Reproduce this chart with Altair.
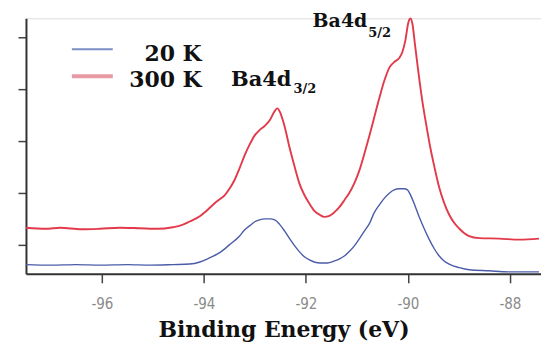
import altair as alt
import pandas as pd

# ---- data ----
series_names = ["20 K", "300 K"]
series_colors = ["#4b5ca9", "#e23a4b"]

energy_300k = [-97.49, -97.10, -96.82, -96.40, -96.04, -95.65, -95.26, -94.90, -94.61,
               -94.47, -94.28, -94.08, -93.98, -93.89, -93.79, -93.69, -93.59, -93.50,
               -93.40, -93.30, -93.20, -93.10, -93.01, -92.91, -92.81, -92.71, -92.61,
               -92.56, -92.50, -92.42, -92.32, -92.22, -92.13, -92.03, -91.93, -91.83,
               -91.73, -91.64, -91.54, -91.44, -91.34, -91.24, -91.15, -91.05, -90.95,
               -90.85, -90.75, -90.66, -90.56, -90.46, -90.36, -90.27, -90.17, -90.11,
               -90.05, -89.99, -89.95, -89.91, -89.86, -89.80, -89.72, -89.64, -89.56,
               -89.48, -89.39, -89.29, -89.19, -89.09, -88.99, -88.90, -88.80, -88.60,
               -88.21, -87.82, -87.43]
intensity_300k = [1.33, 1.31, 1.33, 1.30, 1.31, 1.33, 1.32, 1.31, 1.34,
                  1.37, 1.45, 1.55, 1.63, 1.71, 1.80, 1.88, 1.96, 2.08,
                  2.25, 2.48, 2.73, 2.94, 3.10, 3.21, 3.29, 3.40, 3.58,
                  3.63, 3.54, 3.29, 2.87, 2.50, 2.19, 1.96, 1.79, 1.65,
                  1.58, 1.54, 1.56, 1.63, 1.73, 1.87, 2.00, 2.19, 2.44,
                  2.77, 3.12, 3.46, 3.83, 4.17, 4.42, 4.52, 4.60, 4.71,
                  4.94, 5.29, 5.36, 5.25, 4.85, 4.37, 3.79, 3.31, 2.87,
                  2.50, 2.12, 1.81, 1.58, 1.42, 1.31, 1.23, 1.17, 1.13,
                  1.12, 1.10, 1.12]

energy_20k = [-97.49, -97.00, -96.50, -96.04, -95.50, -95.06, -94.60, -94.28, -94.08,
              -93.89, -93.69, -93.50, -93.30, -93.20, -93.10, -93.01, -92.91, -92.81,
              -92.71, -92.61, -92.52, -92.42, -92.32, -92.22, -92.13, -92.03, -91.93,
              -91.73, -91.58, -91.44, -91.34, -91.24, -91.15, -91.05, -90.95, -90.85,
              -90.75, -90.66, -90.56, -90.46, -90.36, -90.27, -90.17, -90.07, -90.01,
              -89.93, -89.86, -89.78, -89.68, -89.58, -89.48, -89.39, -89.29, -89.19,
              -88.99, -88.80, -88.41, -88.02, -87.43]
intensity_20k = [0.62, 0.61, 0.62, 0.61, 0.62, 0.61, 0.62, 0.63, 0.67,
                 0.75, 0.85, 1.00, 1.17, 1.29, 1.37, 1.44, 1.48, 1.50,
                 1.50, 1.48, 1.40, 1.27, 1.12, 0.98, 0.87, 0.77, 0.71,
                 0.65, 0.65, 0.69, 0.73, 0.79, 0.87, 0.98, 1.12, 1.27,
                 1.42, 1.62, 1.77, 1.90, 2.00, 2.06, 2.08, 2.08, 2.06,
                 1.92, 1.75, 1.54, 1.31, 1.10, 0.92, 0.79, 0.69, 0.63,
                 0.56, 0.52, 0.50, 0.48, 0.48]

x_ticks = [-96, -94, -92, -90, -88]
y_ticks = [1, 2, 3, 4, 5]
x_domain = [-97.49, -87.39]
y_domain = [0.442, 5.365]

df = pd.concat([
    pd.DataFrame({"energy": energy_20k, "intensity": intensity_20k, "series": "20 K"}),
    pd.DataFrame({"energy": energy_300k, "intensity": intensity_300k, "series": "300 K"}),
])

SERIF = "DejaVu Serif"

lines = alt.Chart(df).mark_line(interpolate="monotone", clip=False).encode(
    x=alt.X("energy:Q",
            scale=alt.Scale(domain=x_domain, nice=False, zero=False),
            axis=alt.Axis(values=x_ticks, title="Binding Energy (eV)",
                          labelExpr="'-' + abs(datum.value)", grid=False,
                          domainColor="#333333", domainWidth=2,
                          tickColor="#444444", tickSize=9, tickWidth=1.5,
                          labelColor="#8a8a8a", labelFont="DejaVu Sans Condensed, Liberation Sans Narrow, DejaVu Sans",
                          labelFontSize=15, labelPadding=14,
                          titleFont=SERIF, titleFontWeight="bold", titleFontSize=22,
                          titleColor="#111111", titlePadding=8)),
    y=alt.Y("intensity:Q",
            scale=alt.Scale(domain=y_domain, nice=False, zero=False),
            axis=alt.Axis(values=y_ticks, labels=False, title=None, grid=False,
                          domainColor="#333333", domainWidth=2,
                          tickColor="#444444", tickSize=8, tickWidth=1.5)),
    color=alt.Color("series:N", scale=alt.Scale(domain=series_names, range=series_colors), legend=None),
    strokeWidth=alt.StrokeWidth("series:N", scale=alt.Scale(domain=series_names, range=[1.4, 1.9]), legend=None),
)

one = pd.DataFrame({"k": [0]})

leg_blue = alt.Chart(one).mark_rule(color="#7d90c6", strokeWidth=2).encode(
    x=alt.value(46), x2=alt.value(87), y=alt.value(31))
leg_red = alt.Chart(one).mark_rule(color="#e79aa3", strokeWidth=4).encode(
    x=alt.value(46), x2=alt.value(87), y=alt.value(58))

def label(txt, x, y, size=22, align="right"):
    return alt.Chart(one).mark_text(font=SERIF, fontWeight="bold", fontSize=size,
                                    align=align, baseline="middle", color="#111111").encode(
        x=alt.value(x), y=alt.value(y), text=alt.value(txt))

texts = [
    label("20 K", 176, 36),
    label("300 K", 176, 62),
    label("Ba4d", 266, 62, size=21),
    label("3/2", 268, 71, size=13, align="left"),
    label("Ba4d", 342, 3, size=19),
    label("5/2", 343, 15, size=13, align="left"),
]

chart = alt.layer(lines, leg_blue, leg_red, *texts).properties(
    width=516, height=256,
    autosize=alt.AutoSizeParams(type="none"),
    padding={"left": 18, "top": 10, "right": 0, "bottom": 72},
).configure_view(stroke=None).configure(background="white")

chart.save("out.html", embed_options={"renderer": "svg", "actions": False})
